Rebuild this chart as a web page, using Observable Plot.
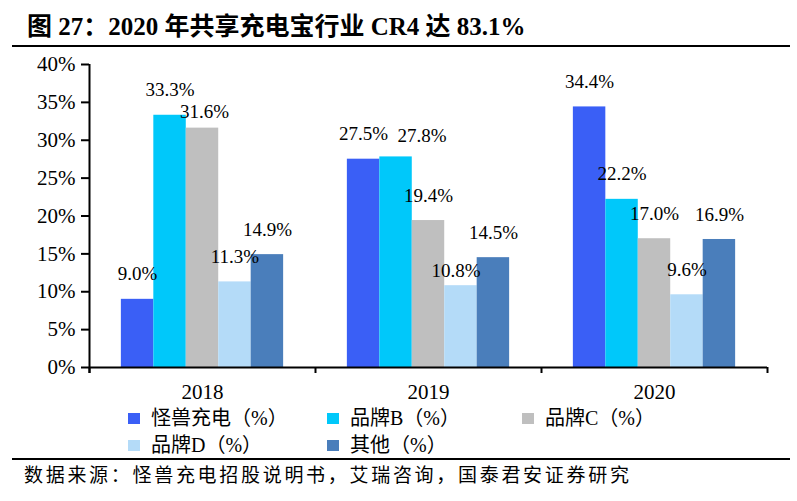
<!DOCTYPE html>
<html>
<head>
<meta charset="utf-8">
<script src="https://cdn.jsdelivr.net/npm/d3@7"></script>
<script src="https://cdn.jsdelivr.net/npm/@observablehq/plot@0.6"></script>
<style>
body{margin:0;background:#fff;}
#wrap{position:relative;width:797px;height:501px;overflow:hidden;background:#fff;font-family:"Liberation Serif","Noto Sans CJK SC",serif;color:#000;}
#title{position:absolute;left:27px;top:11px;font-size:25px;font-weight:bold;line-height:32px;white-space:nowrap;}
#tline{position:absolute;left:12px;width:778px;top:45px;height:0;border-top:2px solid #000;}
#chart{position:absolute;left:0;top:50px;}
.item{position:absolute;display:flex;align-items:center;font-size:20px;white-space:nowrap;height:24px;line-height:24px;}
.sw{width:12px;height:11px;margin-right:11px;}
#fline{position:absolute;left:12px;width:778px;top:458px;height:0;border-top:2px solid #000;}
#foot{position:absolute;left:24px;top:464px;font-size:19px;letter-spacing:2.7px;line-height:24px;white-space:nowrap;}
</style>
</head>
<body>
<div id="wrap">
  <div id="title">图 27：2020 年共享充电宝行业 CR4 达 83.1%</div>
  <div id="tline"></div>
  <div id="chart"></div>
  <div id="legend"></div>
  <div id="fline"></div>
  <div id="foot">数据来源：怪兽充电招股说明书，艾瑞咨询，国泰君安证券研究</div>
</div>
<script>
// ---- data ----
const years = ["2018", "2019", "2020"];
const brands = ["怪兽充电（%）", "品牌B（%）", "品牌C（%）", "品牌D（%）", "其他（%）"];
const guaishou = [9.0, 27.5, 34.4];
const brandB = [33.3, 27.8, 22.2];
const brandC = [31.6, 19.4, 17.0];
const brandD = [11.3, 10.8, 9.6];
const others = [14.9, 14.5, 16.9];
const yTicks = [0, 5, 10, 15, 20, 25, 30, 35, 40];
const colors = ["#3A5FF6", "#00C8FA", "#BFBFBF", "#B4DBF8", "#4A7EBB"];

// ---- table ----
const series = [guaishou, brandB, brandC, brandD, others];
const rows = [];
brands.forEach((b, j) => years.forEach((yr, i) => rows.push({brand: b, year: yr, i, j, value: series[j][i]})));

const W = 0.1436; // bar width in group units
const x1 = d => d.i + 0.5 + (d.j - 2.5) * W;
const x2 = d => x1(d) + W;
const xc = d => x1(d) + W / 2;
const lbl = d => d.value.toFixed(1) + "%";
const key = d => d.brand + "|" + d.year;
// label nudges to avoid overlaps, as in the original
const nudges = {"品牌C（%）|2018": [2, -16], "品牌B（%）|2019": [26, -21], "品牌D（%）|2019": [-5, -15]};

const chart = Plot.plot({
  width: 797, height: 358,
  marginLeft: 89, marginRight: 30, marginTop: 14, marginBottom: 41,
  style: {fontFamily: "Liberation Serif, Noto Sans CJK SC, serif", fontSize: "19px", color: "#000", background: "transparent", overflow: "visible"},
  x: {domain: [0, 3], axis: null},
  y: {domain: [0, 40], axis: null},
  color: {domain: brands, range: colors},
  marks: [
    Plot.rectY(rows, {x1, x2, y1: 0, y2: "value", fill: "brand"}),
    Plot.ruleY([0], {stroke: "#000", strokeWidth: 2}),
    Plot.ruleX([0], {stroke: "#000", strokeWidth: 2, insetBottom: -6}),
    Plot.axisY({ticks: yTicks, tickSize: 8, tickPadding: 6, tickFormat: d => d + "%", strokeWidth: 2, fontSize: 21, label: null}),
    Plot.axisX({ticks: [0, 1, 2, 3], tickSize: 6, tickFormat: () => "", strokeWidth: 2, label: null}),
    Plot.axisX({ticks: [0.5, 1.5, 2.5], tickSize: 0, tickPadding: 17, tickFormat: d => years[Math.floor(d)], fontSize: 21, label: null}),
    Plot.text(rows.filter(d => !nudges[key(d)]), {x: xc, y: "value", text: lbl, dy: -25, lineAnchor: "middle", fontSize: 19, fill: "#000"}),
    ...Object.entries(nudges).map(([k, [dx, dy]]) =>
      Plot.text(rows.filter(d => key(d) === k), {x: xc, y: "value", text: lbl, dx, dy, lineAnchor: "middle", fontSize: 19, fill: "#000"}))
  ]
});
document.getElementById("chart").appendChild(chart);

// ---- legend ----
const legend = document.getElementById("legend");
const colX = [128, 327, 522];
const rowY = [406, 433];
brands.forEach((b, k) => {
  const it = document.createElement("div");
  it.className = "item";
  it.style.left = colX[k % 3] + "px";
  it.style.top = rowY[Math.floor(k / 3)] + "px";
  const sw = document.createElement("span");
  sw.className = "sw";
  sw.style.background = colors[k];
  const tx = document.createElement("span");
  tx.textContent = b;
  it.appendChild(sw); it.appendChild(tx);
  legend.appendChild(it);
});
</script>
</body>
</html>
